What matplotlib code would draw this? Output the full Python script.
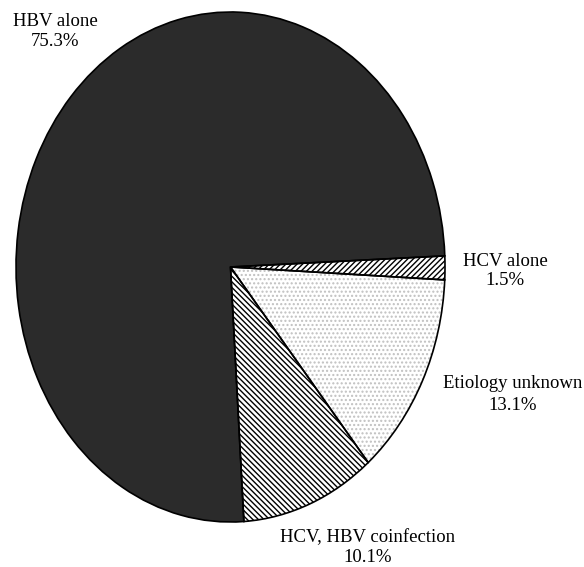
import matplotlib
matplotlib.use("Agg")
import matplotlib.pyplot as plt

# wedge data, in counter-clockwise drawing order
labels = ["HBV alone", "HCV, HBV coinfection", "Etiology unknown", "HCV alone"]
shares = [75.3, 10.1, 13.1, 1.5]

plt.rcParams['font.family'] = ['Liberation Serif', 'DejaVu Serif']
plt.rcParams['hatch.linewidth'] = 1.0

W, H = 584, 567
fig = plt.figure(figsize=(W / 100, H / 100), dpi=100)
fig.patch.set_facecolor('white')

# axes sized to the bounding box of the (elliptical) pie
left, right, top, bottom = 16, 445, 12, 522
ax = fig.add_axes([left / W, 1 - bottom / H, (right - left) / W, (bottom - top) / H])

fills = ['#2b2b2b', 'white', 'white', 'white']
hatches = [None, '\\\\\\\\\\\\', '....', '//////']
hatch_cols = ['#2b2b2b', 'black', '#c0c0c0', 'black']

wedges, _ = ax.pie(shares, startangle=2.5, counterclock=True, radius=1,
                   wedgeprops=dict(linewidth=0))
for w, fc, hc, ec in zip(wedges, fills, hatches, hatch_cols):
    w.set_facecolor(fc)
    w.set_edgecolor(ec)
    if hc:
        w.set_hatch(hc)

# outlines on top
outl, _ = ax.pie(shares, startangle=2.5, counterclock=True, radius=1,
                 wedgeprops=dict(fill=False, edgecolor='black', linewidth=1.2))

ax.set_aspect('auto')
ax.set_xlim(-1, 1)
ax.set_ylim(-1, 1)
ax.axis('off')

def put(x, y, s):
    fig.text(x / W, 1 - y / H, s, ha='center', va='center', fontsize=13.5)

put(55, 21, labels[0])
put(55, 41, f"{shares[0]}%")
put(505, 262, labels[3])
put(505, 281, f"{shares[3]}%")
put(513, 384, labels[2])
put(513, 405, f"{shares[2]}%")
put(368, 538, labels[1])
put(368, 557, f"{shares[1]}%")

fig.savefig('out.png', dpi=100, facecolor='white')
